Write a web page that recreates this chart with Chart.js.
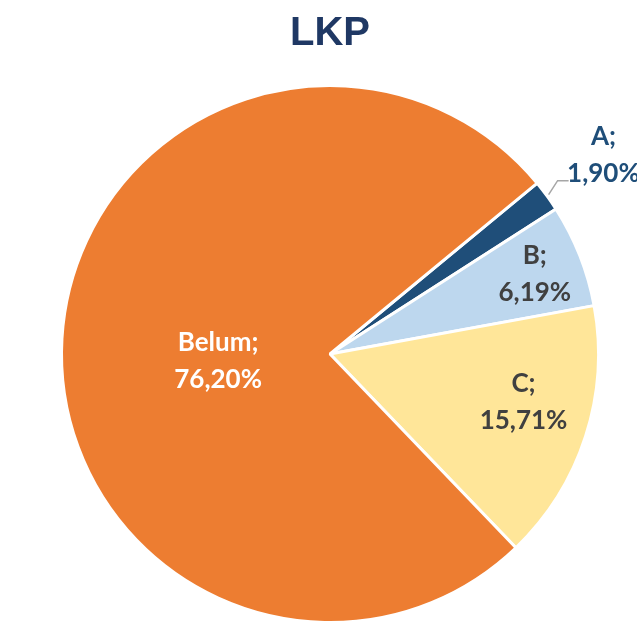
<!DOCTYPE html>
<html>
<head>
<meta charset="utf-8">
<script src="https://cdn.jsdelivr.net/npm/chart.js@4"></script>
<style>
  html, body { margin: 0; padding: 0; background: #fff; }
  #wrap { width: 637px; height: 636px; }
</style>
</head>
<body>
<div id="wrap"><canvas id="myChart" width="637" height="636"></canvas></div>
<script>
// data
var categories = ["A", "B", "C", "Belum"];
var values = [1.90, 6.19, 15.71, 76.20];
var valueLabels = ["1,90%", "6,19%", "15,71%", "76,20%"];
var sliceColors = ["#1F4E79", "#BDD7EE", "#FFE699", "#ED7D31"];
var labelColors = ["#1F4E79", "#404040", "#404040", "#FFFFFF"];
// label placement (fraction of radius, then small pixel nudges)
var labelRadius = [1.26, 0.82, 0.73, 0.41];
var labelNudgeX = [0, 0, 7, -2];
var labelNudgeY = [0, 0, -13, 13];

// draws "Cat;" / "value" labels, plus leader line for A
const pieLabels = {
  id: "pieLabels",
  afterDatasetsDraw(chart) {
    const ctx = chart.ctx;
    const meta = chart.getDatasetMeta(0);
    ctx.save();
    ctx.font = "bold 26px Lato";
    ctx.textAlign = "center";
    ctx.textBaseline = "middle";
    meta.data.forEach(function (arc, i) {
      const mid = (arc.startAngle + arc.endAngle) / 2;
      const r = arc.outerRadius * labelRadius[i];
      const x = arc.x + Math.cos(mid) * r + labelNudgeX[i];
      const y = arc.y + Math.sin(mid) * r + labelNudgeY[i];
      if (labelRadius[i] > 1) {
        // leader line
        const ex = arc.x + Math.cos(mid) * (arc.outerRadius + 2);
        const ey = arc.y + Math.sin(mid) * (arc.outerRadius + 2);
        ctx.strokeStyle = "#A6A6A6";
        ctx.lineWidth = 1.5;
        ctx.beginPath();
        ctx.moveTo(ex, ey);
        ctx.lineTo(ex + 9, ey - 14);
        ctx.lineTo(ex + 20, ey - 14);
        ctx.stroke();
      }
      ctx.fillStyle = labelColors[i];
      ctx.fillText(categories[i] + ";", x, y - 18);
      ctx.fillText(valueLabels[i], x, y + 19);
    });
    ctx.restore();
  }
};

new Chart("myChart", {
  type: "pie",
  data: {
    labels: categories,
    datasets: [{
      data: values,
      backgroundColor: sliceColors,
      borderColor: "#FFFFFF",
      borderWidth: 3
    }]
  },
  options: {
    responsive: false,
    animation: false,
    rotation: 50.5,
    layout: { padding: { left: 60, right: 37, top: 0, bottom: 12 } },
    plugins: {
      legend: { display: false },
      tooltip: { enabled: false },
      title: {
        display: true,
        text: "LKP",
        color: "#1F3864",
        font: { family: "Liberation Sans", size: 40, weight: "bold" },
        padding: { top: 10, bottom: 26 }
      }
    }
  },
  plugins: [pieLabels]
});
</script>
</body>
</html>
